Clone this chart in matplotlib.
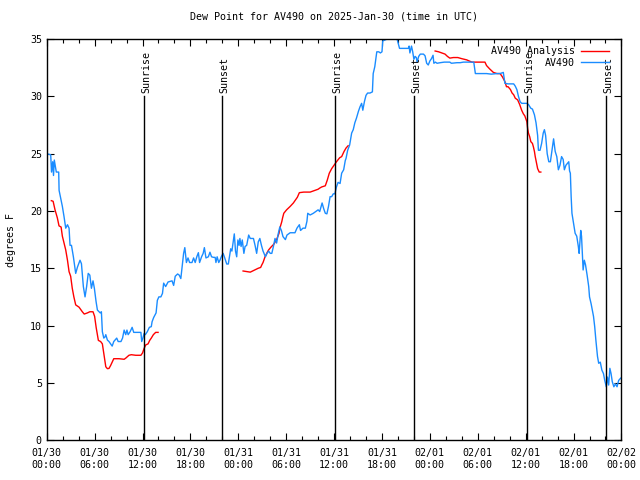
import numpy as np
import matplotlib
matplotlib.use("Agg")
import matplotlib.pyplot as plt

plt.rcParams['font.family'] = ['DejaVu Sans Mono']

# hours since 01/30 00:00 UTC
obs_hours = [0.0, 0.29, 0.5, 0.6, 0.75, 0.85, 0.95, 1.2, 1.5, 1.55, 1.75, 1.96, 2.17, 2.38, 2.6, 2.8,
             2.92, 3.1, 3.34, 3.63, 3.85, 4.17, 4.35, 4.59, 4.8, 5.0, 5.2, 5.4, 5.6, 5.8, 5.97, 6.18,
             6.35, 6.7, 6.85, 6.97, 7.15, 7.3, 7.4, 7.6, 7.8, 8.2, 8.4, 8.77, 8.95, 9.3, 9.5, 9.7,
             9.9, 10.05, 10.2, 10.45, 10.7, 10.9, 11.3, 11.8, 11.9, 12.05, 12.2, 12.35, 12.6, 12.86,
             13.1, 13.2, 13.4, 13.7, 13.86, 14.05, 14.3, 14.5, 14.65, 14.9, 15.2, 15.7, 15.9, 16.1,
             16.4, 16.6, 16.8, 17.0, 17.15, 17.3, 17.5, 17.7, 17.9, 18.2, 18.4, 18.6, 18.8, 19.0,
             19.15, 19.4, 19.6, 19.75, 19.95, 20.25, 20.45, 20.65, 20.9, 21.1, 21.2, 21.35, 21.55,
             21.7, 21.9, 22.1, 22.3, 22.55, 22.75, 22.9, 23.05, 23.2, 23.4, 23.5, 23.65, 23.8, 23.95,
             24.1, 24.2, 24.35, 24.5, 24.7, 24.85, 25.05, 25.3, 25.5, 25.9, 26.1, 26.3, 26.5, 26.7,
             26.9, 27.1, 27.4, 27.6, 27.8, 28.0, 28.2, 28.4, 28.6, 28.8, 29.0, 29.2, 29.4, 29.6,
             29.9, 30.1, 30.5, 31.1, 31.35, 31.65, 31.8, 32.1, 32.4, 32.6, 32.7, 33.0, 33.4, 34.0,
             34.2, 34.5, 34.7, 34.9, 35.1, 35.3, 35.5, 35.7, 35.9, 36.1, 36.3, 36.5, 36.75, 36.95,
             37.2, 37.4, 37.5, 37.7, 37.95, 38.2, 38.4, 38.6, 38.8, 39.05, 39.25, 39.45, 39.6, 39.8,
             40.0, 40.2, 40.5, 40.8, 40.9, 41.1, 41.35, 41.6, 41.8, 42.0, 42.1, 42.6, 43.4, 43.9,
             44.2, 44.7, 45.3, 45.4, 45.5, 45.7, 45.85, 46.0, 46.15, 46.3, 46.4, 46.6, 46.8, 47.2,
             47.4, 47.6, 47.8, 48.0, 48.2, 48.4, 48.5, 48.7, 48.9, 49.3, 49.8, 50.5, 50.7, 51.4,
             51.8, 52.2, 52.6, 53.0, 53.5, 53.7, 54.3, 55.1, 55.7, 56.4, 56.8, 57.2, 57.4, 57.8,
             58.5, 58.7, 58.9, 59.1, 59.3, 59.5, 60.15, 60.35, 60.65, 60.85, 61.1, 61.3, 61.5, 61.6,
             61.8, 62.0, 62.2, 62.35, 62.5, 62.7, 62.9, 63.1, 63.4, 63.5, 63.7, 63.9, 64.1, 64.3,
             64.5, 64.7, 64.85, 65.05, 65.4, 65.5, 65.6, 65.7, 65.8, 66.0, 66.2, 66.4, 66.6, 66.7,
             66.9, 67.0, 67.2, 67.35, 67.5, 67.7, 67.9, 68.0, 68.2, 68.5, 68.65, 68.8, 69.0, 69.15,
             69.35, 69.55, 69.75, 69.9, 70.1, 70.25, 70.4, 70.55, 70.7, 70.85, 71.05, 71.25, 71.45,
             71.65, 71.9]
obs_dewpt = [25.0, 24.95, 24.9, 23.4, 24.3, 23.1, 24.45, 23.4, 23.4, 21.8, 21.1, 20.4, 19.5, 18.5, 18.8, 18.5,
             17.0, 17.0, 16.0, 14.55, 15.1, 15.7, 15.4, 13.4, 12.5, 13.4, 14.55, 14.4, 13.25, 13.9, 13.25, 12.1,
             11.35, 11.1, 11.2, 9.46, 8.9, 9.0, 9.2, 8.73, 8.6, 8.2, 8.6, 8.9, 8.6, 8.6, 8.9, 9.6,
             9.2, 9.6, 9.2, 9.46, 9.84, 9.4, 9.4, 9.4, 8.6, 8.9, 9.3, 9.2, 9.46, 9.84,
             9.9, 10.33, 10.7, 11.1, 12.2, 12.5, 12.5, 12.8, 13.7, 13.4, 13.8, 13.9, 13.5, 14.3,
             14.5, 14.4, 14.1, 15.4, 16.3, 16.8, 15.5, 15.9, 15.5, 15.5, 15.9, 15.5, 16.0, 16.36,
             15.5, 16.0, 16.3, 16.8, 15.9, 16.0, 16.4, 16.0, 15.95, 15.95, 15.5, 16.0, 15.5,
             15.7, 16.05, 16.3, 15.9, 15.37, 15.37, 16.05, 16.7, 16.5, 17.47, 18.0, 16.5, 16.0, 17.47,
             17.0, 17.6, 16.9, 17.47, 16.3, 16.9, 17.0, 17.9, 17.6, 17.6, 17.0, 16.3, 17.3, 17.6,
             17.0, 16.5, 16.0, 16.3, 16.5, 16.3, 16.3, 16.9, 17.6, 17.2, 18.0, 18.6, 18.3, 17.76,
             17.5, 17.9, 18.1, 18.1, 18.5, 18.8, 18.3, 18.5, 18.5, 19.1, 19.8, 19.65, 19.8, 20.1,
             19.95, 20.7, 20.2, 19.8, 19.75, 20.4, 21.25, 21.25, 21.5, 21.5, 22.1, 22.5, 22.4, 23.3,
             23.6, 24.4, 24.6, 25.3, 25.76, 26.8, 27.1, 27.7, 28.1, 28.7, 29.1, 29.4, 28.8, 29.55,
             30.1, 30.3, 30.3, 30.4, 32.0, 32.6, 33.9, 33.9, 33.8, 33.9, 34.85, 35.0, 35.0, 35.0,
             34.2, 34.2, 34.2, 34.4, 33.8, 34.4, 33.9, 33.25, 33.5, 33.4, 33.0, 33.5, 33.7, 33.7,
             33.55, 32.9, 32.75, 33.1, 33.3, 33.6, 32.9, 33.0, 32.9, 32.95, 33.0, 33.0, 32.9, 32.95,
             32.95, 33.0, 33.0, 33.0, 33.0, 32.0, 32.0, 32.0, 31.95, 32.0, 32.0, 32.1, 31.15, 31.1,
             31.1, 30.9, 30.6, 30.0, 29.55, 29.4, 29.4, 29.3, 28.97, 28.9, 28.4, 27.7, 26.6, 25.3,
             25.3, 25.9, 26.8, 27.1, 26.6, 25.0, 24.3, 24.3, 25.8, 26.3, 25.2, 24.75, 23.6, 24.0,
             24.75, 24.5, 23.6, 24.0, 24.3, 23.5, 23.3, 21.25, 19.8, 18.9, 18.05, 17.8, 16.9, 16.3,
             18.3, 17.8, 14.85, 15.7, 15.3, 14.4, 13.4, 12.5, 11.9, 10.8, 9.9, 8.7, 7.3, 6.7,
             6.8, 6.1, 5.8, 5.24, 4.65, 5.5, 4.8, 6.26, 5.8, 5.1, 4.65, 4.9, 4.65,
             5.2, 5.4]

# analysis, nan = gap
ana_hours = [0.58, 0.8, 1.04, 1.33, 1.54, 1.8, 1.96, 2.17, 2.38, 2.6, 2.8, 3.0, 3.2, 3.4, 3.63, 4.05,
             4.46, 4.7, 5.1, 5.4, 5.8, 6.0, 6.2, 6.47, 6.75, 6.97, 7.2, 7.4, 7.6, 7.8, 8.0, 8.2,
             8.4, 8.6, 9.06, 9.7, 9.9, 10.3, 10.6, 11.15, 11.8, 12.0, 12.2, 12.4, 12.7, 12.9, 13.1,
             13.36, 13.65, 13.95, 19.0,
             24.6, 25.5, 26.2, 26.5, 26.8, 26.95, 27.1, 27.35, 27.6, 27.8, 28.1, 28.45, 28.8, 29.1,
             29.25, 29.45, 29.55, 29.7, 30.05, 30.5, 30.9, 31.1, 31.4, 31.65, 32.2, 33.0, 33.6, 34.0,
             34.2, 34.45, 34.9, 35.15, 35.4, 35.7, 36.0, 36.3, 36.7, 36.95, 37.25, 37.5, 37.76, 43.0,
             48.66, 49.1, 49.5, 49.9, 50.2, 50.5, 50.95, 51.5, 52.0, 52.6, 53.26, 53.7, 54.3, 54.9,
             55.1, 55.5, 55.96, 56.4, 56.8, 57.1, 57.4, 57.6, 57.8, 58.1, 58.3, 58.5, 58.7, 59.0,
             59.25, 59.5, 59.7, 59.9, 60.15, 60.25, 60.35, 60.5, 60.65, 60.85, 60.97, 61.1, 61.2,
             61.35, 61.5, 61.7, 61.9]
ana_dewpt = [20.9, 20.85, 20.1, 19.4, 18.7, 18.6, 17.8, 17.2, 16.6, 15.7, 14.7, 14.3, 13.25, 12.5, 11.8, 11.6,
             11.2, 11.0, 11.1, 11.2, 11.2, 10.8, 9.8, 8.7, 8.6, 8.4, 7.3, 6.4, 6.23, 6.25, 6.5, 6.8,
             7.1, 7.1, 7.1, 7.05, 7.15, 7.4, 7.45, 7.4, 7.4, 7.6, 8.0, 8.3, 8.4, 8.7, 8.9,
             9.2, 9.4, 9.4, np.nan,
             14.76, 14.66, 14.9, 15.0, 15.07, 15.3, 15.5, 16.0, 16.35, 16.6, 16.85, 17.1, 17.5, 18.05,
             18.6, 19.07, 19.4, 19.8, 20.1, 20.4, 20.7, 20.9, 21.2, 21.6, 21.65, 21.65, 21.8, 21.9,
             22.0, 22.1, 22.2, 22.7, 23.3, 23.7, 24.0, 24.3, 24.65, 24.75, 25.2, 25.5, 25.7, np.nan,
             33.97, 33.9, 33.8, 33.7, 33.5, 33.35, 33.4, 33.4, 33.3, 33.2, 33.0, 33.0, 33.0, 33.0,
             32.7, 32.4, 32.1, 32.0, 32.0, 31.7, 31.3, 30.85, 30.85, 30.6, 30.3, 30.15, 29.85, 29.7,
             29.3, 28.8, 28.5, 28.3, 27.8, 27.2, 26.8, 26.5, 26.05, 25.9, 25.6, 25.2, 24.75,
             24.2, 23.7, 23.4, 23.4]

sun_hours = [12.23, 22.0, 36.17, 46.03, 60.23, 70.09]
sun_labels = ["Sunrise", "Sunset", "Sunrise", "Sunset", "Sunrise", "Sunset"]

tick_hours = [0, 6, 12, 18, 24, 30, 36, 42, 48, 54, 60, 66, 72]
tick_labels = ["01/30\n00:00", "01/30\n06:00", "01/30\n12:00", "01/30\n18:00",
               "01/31\n00:00", "01/31\n06:00", "01/31\n12:00", "01/31\n18:00",
               "02/01\n00:00", "02/01\n06:00", "02/01\n12:00", "02/01\n18:00",
               "02/02\n00:00"]

fig = plt.figure(figsize=(6.4, 4.8), dpi=100)
ax = fig.add_axes([0.073, 0.0833, 0.898, 0.835])

ax.plot(ana_hours, ana_dewpt, color="#ff0000", lw=1.0, label="AV490 Analysis")
ax.plot(obs_hours, obs_dewpt, color="#1a8cff", lw=1.0, label="AV490")

for h, lab in zip(sun_hours, sun_labels):
    ax.plot([h, h], [0, 30], color="black", lw=1.0)
    ax.text(h + 0.25, 30.3, lab, rotation=90, ha="center", va="bottom", fontsize=7.2)

ax.set_xlim(0, 72)
ax.set_ylim(0, 35)
ax.set_xticks(tick_hours)
ax.set_xticklabels(tick_labels)
ax.set_xticks(np.arange(0, 73, 2), minor=True)
ax.set_yticks(np.arange(0, 36, 5))
ax.tick_params(which="both", direction="in", top=True, right=True, labelsize=7.2)
ax.tick_params(which="major", length=5, width=0.8)
ax.tick_params(which="minor", length=3, width=0.8)
ax.tick_params(axis="x", pad=6)

ax.set_ylabel("degrees F", fontsize=7.2, labelpad=10)
ax.set_title("Dew Point for AV490 on 2025-Jan-30 (time in UTC)", fontsize=7.2, pad=14)

ax.legend(loc="upper right", bbox_to_anchor=(0.99, 1.0), markerfirst=False, frameon=False,
          fontsize=7.2, handlelength=2.8, borderaxespad=0.3, labelspacing=0.15, handletextpad=0.6)

for s in ax.spines.values():
    s.set_linewidth(1.0)

plt.savefig("out.png", dpi=100)
